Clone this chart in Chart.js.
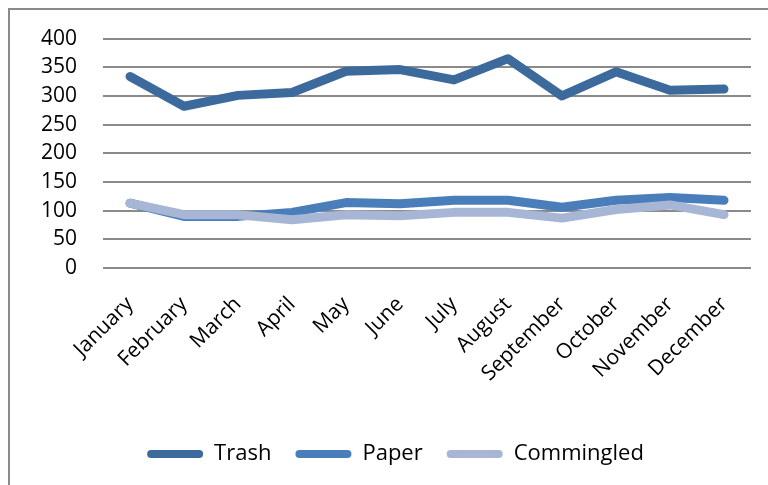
<!DOCTYPE html>
<html>
<head>
<meta charset="utf-8">
<script src="https://cdn.jsdelivr.net/npm/chart.js@4/dist/chart.umd.min.js"></script>
<style>
  body { margin: 0; background: #fff; overflow: hidden; }
  #frame { position: absolute; left: 8px; top: 8px; width: 800px; height: 520px; border-left: 2px solid #8a8a8a; border-top: 2px solid #8a8a8a; }
  #wrap { position: absolute; left: 0; top: 0; width: 768px; height: 485px; }
</style>
</head>
<body>
<div id="frame"></div>
<div id="wrap"><canvas id="chart"></canvas></div>
<script>
const months = ["January", "February", "March", "April", "May", "June", "July", "August", "September", "October", "November", "December"];
const trash = [334, 282, 301, 306, 343, 346, 328, 365, 300, 342, 310, 312];
const paper = [113, 90, 90, 97, 114, 112, 118, 118, 106, 118, 123, 118];
const commingled = [113, 93, 93, 84, 93, 91, 97, 97, 87, 102, 110, 93];
const yTicks = [0, 50, 100, 150, 200, 250, 300, 350, 400];

const font = { family: "'Open Sans'", size: 21 };

function series(label, data, color, order) {
  return {
    label: label,
    data: data,
    borderColor: color,
    backgroundColor: color,
    borderWidth: 9,
    borderCapStyle: "round",
    borderJoinStyle: "round",
    pointRadius: 0,
    tension: 0,
    order: order
  };
}

const ctx = document.getElementById("chart").getContext("2d");
new Chart(ctx, {
  type: "line",
  data: {
    labels: months,
    datasets: [
      series("Trash", trash, "#3d6a9c", 2),
      series("Paper", paper, "#4a7ebb", 1),
      series("Commingled", commingled, "#a6b6d4", 0)
    ]
  },
  options: {
    responsive: true,
    maintainAspectRatio: false,
    animation: false,
    layout: { padding: { top: 37, right: 17, bottom: 10, left: 40 } },
    plugins: {
      tooltip: { enabled: false },
      legend: {
        position: "bottom",
        labels: {
          font: { family: "'Open Sans'", size: 22 },
          color: "#000",
          boxWidth: 56,
          boxHeight: 8,
          useBorderRadius: true,
          borderRadius: 4,
          padding: 24,
          sort: (a, b) => a.datasetIndex - b.datasetIndex,
          generateLabels: (chart) =>
            Chart.defaults.plugins.legend.labels.generateLabels(chart).map(l => ({ ...l, lineWidth: 0 }))
        }
      }
    },
    scales: {
      x: {
        offset: true,
        grid: { display: false, drawTicks: false },
        border: { display: false },
        ticks: { font: font, color: "#000", maxRotation: 45, minRotation: 45, padding: 24 },
        afterFit: (scale) => { scale.height = 151; scale.paddingRight = 0; scale.paddingLeft = 0; }
      },
      y: {
        min: 0,
        max: 400,
        afterBuildTicks: (scale) => { scale.ticks = yTicks.map(v => ({ value: v })); },
        grid: { color: "#8a8a8a", lineWidth: 2, drawTicks: false },
        border: { display: false },
        ticks: { font: font, color: "#000", padding: 26 },
        afterFit: (scale) => { scale.width = 63; }
      }
    }
  }
});
</script>
</body>
</html>
